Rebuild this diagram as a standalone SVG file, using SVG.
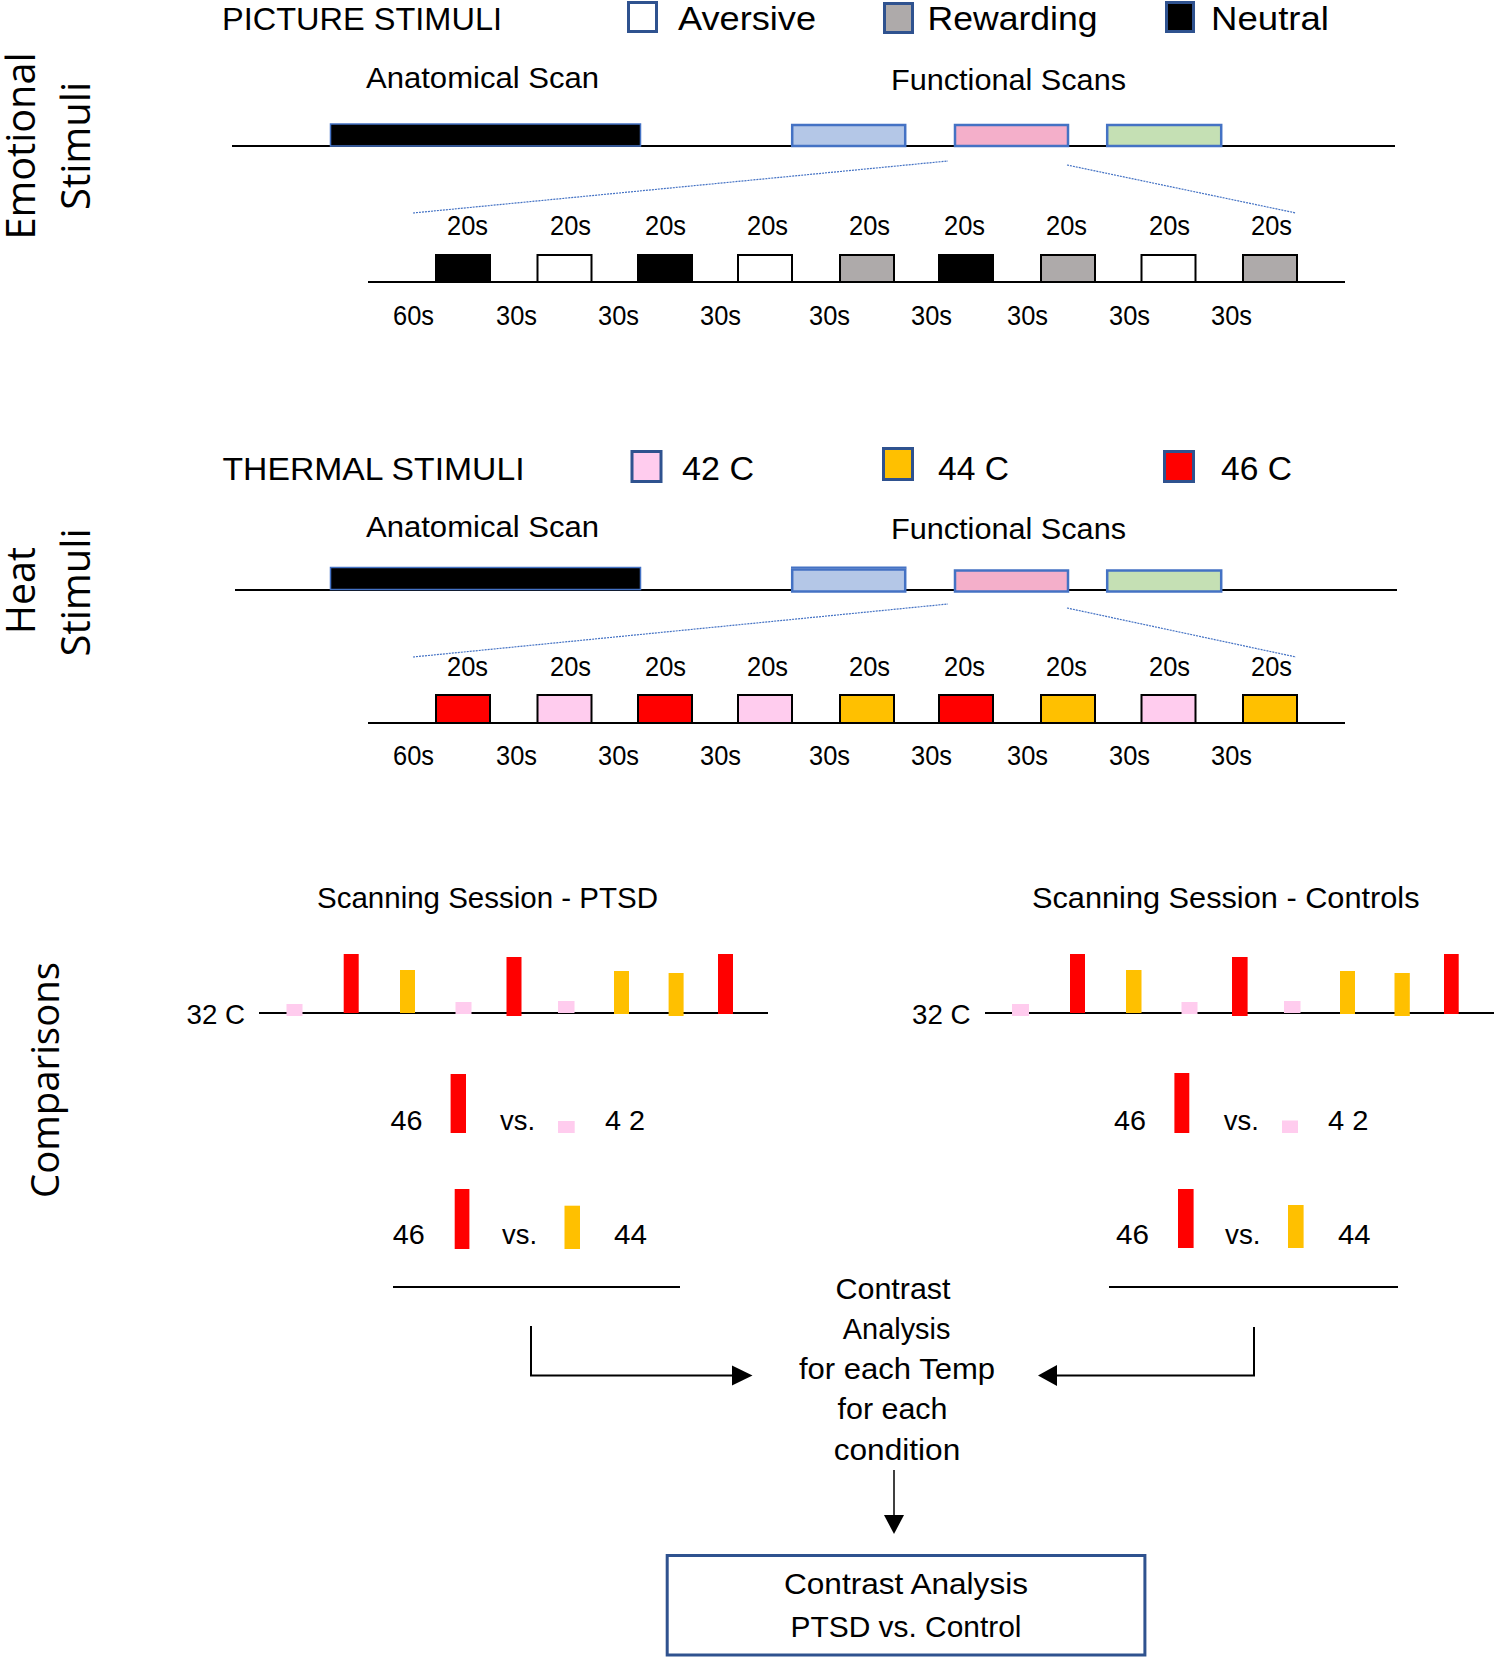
<svg xmlns="http://www.w3.org/2000/svg" width="1494" height="1657" viewBox="0 0 1494 1657">
<style>
text{font-family:"Liberation Sans",Arial,sans-serif;fill:#000}
.ax{font-family:"Open Sans","DejaVu Sans",sans-serif;font-size:40px}
.hd{font-size:32px}
.lg{font-size:34px}
.md{font-size:30px}
.sm{font-size:27px}
.nm{font-size:28px}
.lbox{stroke:#2F528F;stroke-width:3}
.tl{stroke:#000;stroke-width:2}
.fb{stroke:#4472C4;stroke-width:2.5}
.dz{stroke:#4472C4;stroke-width:1.2;stroke-dasharray:2 1;fill:none}
.bx{stroke:#000;stroke-width:2}
.blk{fill:#000}.wht{fill:#fff}.gry{fill:#AEAAAA}
.pk{fill:#FFCCEE}.or{fill:#FFC000}.rd{fill:#FF0000}
.ln{stroke:#000;stroke-width:2;fill:none}
</style>
<rect width="1494" height="1657" fill="#fff"/>

<g id="axis-labels">
<text class="ax" transform="translate(35,146) rotate(-90)" text-anchor="middle" textLength="187" lengthAdjust="spacingAndGlyphs">Emotional</text>
<text class="ax" transform="translate(89.5,146) rotate(-90)" text-anchor="middle" textLength="128" lengthAdjust="spacingAndGlyphs">Stimuli</text>
<text class="ax" transform="translate(35,590.5) rotate(-90)" text-anchor="middle" textLength="87" lengthAdjust="spacingAndGlyphs">Heat</text>
<text class="ax" transform="translate(89.5,592.5) rotate(-90)" text-anchor="middle" textLength="128" lengthAdjust="spacingAndGlyphs">Stimuli</text>
<text class="ax" style="font-size:39px" transform="translate(58.5,1080) rotate(-90)" text-anchor="middle" textLength="236" lengthAdjust="spacingAndGlyphs">Comparisons</text>
</g>

<g id="legend-picture">
<text class="hd" x="222" y="30" textLength="280" lengthAdjust="spacingAndGlyphs">PICTURE STIMULI</text>
<rect class="lbox wht" x="628.5" y="2.5" width="28" height="29"/>
<text class="lg" x="678" y="30" textLength="138" lengthAdjust="spacingAndGlyphs">Aversive</text>
<rect class="lbox gry" x="884.5" y="3.5" width="28" height="29"/>
<text class="lg" x="927.5" y="30" textLength="170" lengthAdjust="spacingAndGlyphs">Rewarding</text>
<rect class="lbox blk" x="1166.5" y="2.5" width="27" height="29"/>
<text class="lg" x="1211" y="30" textLength="118" lengthAdjust="spacingAndGlyphs">Neutral</text>
</g>

<g id="timeline-emotional">
<text class="md" x="366" y="88" textLength="233" lengthAdjust="spacingAndGlyphs">Anatomical Scan</text>
<text class="md" x="891" y="90" textLength="235" lengthAdjust="spacingAndGlyphs">Functional Scans</text>
<line class="tl" x1="232" y1="146" x2="1395" y2="146"/>
<rect x="330.5" y="124" width="310" height="22" fill="#000" stroke="#4472C4" stroke-width="1.5"/>
<rect class="fb" x="792.2" y="125" width="113" height="21" fill="#B4C7E7"/>
<rect class="fb" x="955" y="125" width="113" height="21" fill="#F4AFCA"/>
<rect class="fb" x="1107.2" y="125" width="114" height="21" fill="#C5E0B4"/>
<line class="dz" x1="413" y1="213" x2="948" y2="161"/>
<line class="dz" x1="1067" y1="165" x2="1296" y2="213"/>
</g>

<g id="detail-emotional">
<line class="tl" x1="368" y1="282" x2="1345" y2="282"/>
<rect class="bx blk" x="436" y="255" width="54" height="27"/>
<rect class="bx wht" x="537.5" y="255" width="54" height="27"/>
<rect class="bx blk" x="638" y="255" width="54" height="27"/>
<rect class="bx wht" x="738" y="255" width="54" height="27"/>
<rect class="bx gry" x="840" y="255" width="54" height="27"/>
<rect class="bx blk" x="939" y="255" width="54" height="27"/>
<rect class="bx gry" x="1041" y="255" width="54" height="27"/>
<rect class="bx wht" x="1141.5" y="255" width="54" height="27"/>
<rect class="bx gry" x="1243" y="255" width="54" height="27"/>
<text class="sm" x="447" y="235" textLength="41" lengthAdjust="spacingAndGlyphs">20s</text>
<text class="sm" x="550" y="235" textLength="41" lengthAdjust="spacingAndGlyphs">20s</text>
<text class="sm" x="645" y="235" textLength="41" lengthAdjust="spacingAndGlyphs">20s</text>
<text class="sm" x="747" y="235" textLength="41" lengthAdjust="spacingAndGlyphs">20s</text>
<text class="sm" x="849" y="235" textLength="41" lengthAdjust="spacingAndGlyphs">20s</text>
<text class="sm" x="944" y="235" textLength="41" lengthAdjust="spacingAndGlyphs">20s</text>
<text class="sm" x="1046" y="235" textLength="41" lengthAdjust="spacingAndGlyphs">20s</text>
<text class="sm" x="1149" y="235" textLength="41" lengthAdjust="spacingAndGlyphs">20s</text>
<text class="sm" x="1251" y="235" textLength="41" lengthAdjust="spacingAndGlyphs">20s</text>
<text class="sm" x="393" y="325" textLength="41" lengthAdjust="spacingAndGlyphs">60s</text>
<text class="sm" x="496" y="325" textLength="41" lengthAdjust="spacingAndGlyphs">30s</text>
<text class="sm" x="598" y="325" textLength="41" lengthAdjust="spacingAndGlyphs">30s</text>
<text class="sm" x="700" y="325" textLength="41" lengthAdjust="spacingAndGlyphs">30s</text>
<text class="sm" x="809" y="325" textLength="41" lengthAdjust="spacingAndGlyphs">30s</text>
<text class="sm" x="911" y="325" textLength="41" lengthAdjust="spacingAndGlyphs">30s</text>
<text class="sm" x="1007" y="325" textLength="41" lengthAdjust="spacingAndGlyphs">30s</text>
<text class="sm" x="1109" y="325" textLength="41" lengthAdjust="spacingAndGlyphs">30s</text>
<text class="sm" x="1211" y="325" textLength="41" lengthAdjust="spacingAndGlyphs">30s</text>
</g>

<g id="legend-thermal">
<text class="hd" x="222.5" y="480" textLength="302" lengthAdjust="spacingAndGlyphs">THERMAL STIMULI</text>
<rect class="lbox pk" x="632" y="451.5" width="29" height="30"/>
<text class="lg" x="682" y="480" textLength="72" lengthAdjust="spacingAndGlyphs">42 C</text>
<rect class="lbox or" x="883.5" y="448.5" width="29" height="31"/>
<text class="lg" x="938" y="480" textLength="71" lengthAdjust="spacingAndGlyphs">44 C</text>
<rect class="lbox rd" x="1164.5" y="451.5" width="29" height="30"/>
<text class="lg" x="1221" y="480" textLength="71" lengthAdjust="spacingAndGlyphs">46 C</text>
</g>

<g id="timeline-heat">
<text class="md" x="366" y="537" textLength="233" lengthAdjust="spacingAndGlyphs">Anatomical Scan</text>
<text class="md" x="891" y="539" textLength="235" lengthAdjust="spacingAndGlyphs">Functional Scans</text>
<line class="tl" x1="235" y1="590" x2="1397" y2="590"/>
<rect x="330.5" y="567.5" width="310" height="22" fill="#000" stroke="#4472C4" stroke-width="1.5"/>
<rect class="fb" x="792.2" y="569.5" width="113" height="22" fill="#B4C7E7"/>
<line x1="791" y1="567.5" x2="906.5" y2="567.5" stroke="#4472C4" stroke-width="2"/>
<rect class="fb" x="955" y="570.5" width="113" height="21" fill="#F4AFCA"/>
<rect class="fb" x="1107.2" y="570.5" width="114" height="21" fill="#C5E0B4"/>
<line class="dz" x1="413" y1="657" x2="948" y2="604"/>
<line class="dz" x1="1067" y1="608" x2="1296" y2="657"/>
</g>

<g id="detail-heat">
<line class="tl" x1="368" y1="723" x2="1345" y2="723"/>
<rect class="bx rd" x="436" y="695" width="54" height="28"/>
<rect class="bx pk" x="537.5" y="695" width="54" height="28"/>
<rect class="bx rd" x="638" y="695" width="54" height="28"/>
<rect class="bx pk" x="738" y="695" width="54" height="28"/>
<rect class="bx or" x="840" y="695" width="54" height="28"/>
<rect class="bx rd" x="939" y="695" width="54" height="28"/>
<rect class="bx or" x="1041" y="695" width="54" height="28"/>
<rect class="bx pk" x="1141.5" y="695" width="54" height="28"/>
<rect class="bx or" x="1243" y="695" width="54" height="28"/>
<text class="sm" x="447" y="676" textLength="41" lengthAdjust="spacingAndGlyphs">20s</text>
<text class="sm" x="550" y="676" textLength="41" lengthAdjust="spacingAndGlyphs">20s</text>
<text class="sm" x="645" y="676" textLength="41" lengthAdjust="spacingAndGlyphs">20s</text>
<text class="sm" x="747" y="676" textLength="41" lengthAdjust="spacingAndGlyphs">20s</text>
<text class="sm" x="849" y="676" textLength="41" lengthAdjust="spacingAndGlyphs">20s</text>
<text class="sm" x="944" y="676" textLength="41" lengthAdjust="spacingAndGlyphs">20s</text>
<text class="sm" x="1046" y="676" textLength="41" lengthAdjust="spacingAndGlyphs">20s</text>
<text class="sm" x="1149" y="676" textLength="41" lengthAdjust="spacingAndGlyphs">20s</text>
<text class="sm" x="1251" y="676" textLength="41" lengthAdjust="spacingAndGlyphs">20s</text>
<text class="sm" x="393" y="765" textLength="41" lengthAdjust="spacingAndGlyphs">60s</text>
<text class="sm" x="496" y="765" textLength="41" lengthAdjust="spacingAndGlyphs">30s</text>
<text class="sm" x="598" y="765" textLength="41" lengthAdjust="spacingAndGlyphs">30s</text>
<text class="sm" x="700" y="765" textLength="41" lengthAdjust="spacingAndGlyphs">30s</text>
<text class="sm" x="809" y="765" textLength="41" lengthAdjust="spacingAndGlyphs">30s</text>
<text class="sm" x="911" y="765" textLength="41" lengthAdjust="spacingAndGlyphs">30s</text>
<text class="sm" x="1007" y="765" textLength="41" lengthAdjust="spacingAndGlyphs">30s</text>
<text class="sm" x="1109" y="765" textLength="41" lengthAdjust="spacingAndGlyphs">30s</text>
<text class="sm" x="1211" y="765" textLength="41" lengthAdjust="spacingAndGlyphs">30s</text>
</g>

<g id="session-ptsd">
<text class="md" x="317" y="908" textLength="341" lengthAdjust="spacingAndGlyphs">Scanning Session - PTSD</text>
<text class="nm" x="186.5" y="1024" textLength="58.5" lengthAdjust="spacingAndGlyphs">32 C</text>
<line class="tl" x1="259" y1="1013" x2="768" y2="1013"/>
<rect class="pk" x="286.5" y="1004" width="16" height="12"/>
<rect class="rd" x="343.7" y="954" width="15" height="59"/>
<rect class="or" x="400" y="970" width="15" height="43"/>
<rect class="pk" x="455.5" y="1002" width="16" height="12"/>
<rect class="rd" x="506.5" y="957" width="15" height="59"/>
<rect class="pk" x="558" y="1001" width="16.5" height="12"/>
<rect class="or" x="614" y="971" width="15" height="43"/>
<rect class="or" x="668.6" y="973" width="15" height="43"/>
<rect class="rd" x="718" y="954" width="15" height="60"/>
<text class="nm" x="390.6" y="1130" textLength="32" lengthAdjust="spacingAndGlyphs">46</text>
<rect class="rd" x="450.6" y="1074" width="15.4" height="59"/>
<text class="nm" x="500" y="1130" textLength="35" lengthAdjust="spacingAndGlyphs">vs.</text>
<rect class="pk" x="558" y="1121" width="16.7" height="12"/>
<text class="nm" x="605" y="1130" textLength="40" lengthAdjust="spacingAndGlyphs">4 2</text>
<text class="nm" x="392.7" y="1244" textLength="32" lengthAdjust="spacingAndGlyphs">46</text>
<rect class="rd" x="454.7" y="1189" width="14.7" height="60"/>
<text class="nm" x="502" y="1244" textLength="35" lengthAdjust="spacingAndGlyphs">vs.</text>
<rect class="or" x="564.5" y="1205.7" width="15.5" height="43.3"/>
<text class="nm" x="614" y="1244" textLength="33" lengthAdjust="spacingAndGlyphs">44</text>
</g>

<g id="session-controls">
<text class="md" x="1032" y="908" textLength="387.5" lengthAdjust="spacingAndGlyphs">Scanning Session - Controls</text>
<text class="nm" x="912" y="1024" textLength="58.5" lengthAdjust="spacingAndGlyphs">32 C</text>
<line class="tl" x1="985" y1="1013" x2="1494" y2="1013"/>
<rect class="pk" x="1012" y="1004" width="17" height="12"/>
<rect class="rd" x="1070" y="954" width="15" height="59"/>
<rect class="or" x="1126" y="970" width="15.5" height="43"/>
<rect class="pk" x="1181.5" y="1002" width="16" height="12"/>
<rect class="rd" x="1232" y="957" width="15.6" height="59"/>
<rect class="pk" x="1284" y="1001" width="16.5" height="12"/>
<rect class="or" x="1340" y="971" width="15" height="43"/>
<rect class="or" x="1394.5" y="973" width="15.3" height="43"/>
<rect class="rd" x="1444" y="954" width="14.7" height="60"/>
<text class="nm" x="1114" y="1130" textLength="32" lengthAdjust="spacingAndGlyphs">46</text>
<rect class="rd" x="1174.4" y="1073" width="14.9" height="60"/>
<text class="nm" x="1223.8" y="1130" textLength="35" lengthAdjust="spacingAndGlyphs">vs.</text>
<rect class="pk" x="1282" y="1120.5" width="16" height="12.5"/>
<text class="nm" x="1328" y="1130" textLength="40.5" lengthAdjust="spacingAndGlyphs">4 2</text>
<text class="nm" x="1116" y="1244" textLength="33" lengthAdjust="spacingAndGlyphs">46</text>
<rect class="rd" x="1178" y="1189" width="15.6" height="59"/>
<text class="nm" x="1225" y="1244" textLength="35.5" lengthAdjust="spacingAndGlyphs">vs.</text>
<rect class="or" x="1288" y="1205" width="15.6" height="43"/>
<text class="nm" x="1338" y="1244" textLength="32.5" lengthAdjust="spacingAndGlyphs">44</text>
</g>

<g id="contrast-each">
<text class="md" x="893" y="1299" text-anchor="middle" textLength="115" lengthAdjust="spacingAndGlyphs">Contrast</text>
<text class="md" x="896.6" y="1339" text-anchor="middle" textLength="107.6" lengthAdjust="spacingAndGlyphs">Analysis</text>
<text class="md" x="897" y="1379" text-anchor="middle" textLength="196" lengthAdjust="spacingAndGlyphs">for each Temp</text>
<text class="md" x="892.5" y="1419" text-anchor="middle" textLength="110" lengthAdjust="spacingAndGlyphs">for each</text>
<text class="md" x="897" y="1460" text-anchor="middle" textLength="126.6" lengthAdjust="spacingAndGlyphs">condition</text>
</g>

<g id="contrast-group">
<rect x="667.2" y="1555.5" width="477.7" height="99.5" fill="#fff" stroke="#2F528F" stroke-width="3"/>
<text class="md" x="906" y="1594" text-anchor="middle" textLength="244" lengthAdjust="spacingAndGlyphs">Contrast Analysis</text>
<text class="md" x="906" y="1637" text-anchor="middle" textLength="231" lengthAdjust="spacingAndGlyphs">PTSD vs. Control</text>
</g>

<g id="connectors">
<line class="ln" x1="393" y1="1287" x2="680" y2="1287"/>
<line class="ln" x1="1109" y1="1287" x2="1398" y2="1287"/>
<polyline class="ln" points="531,1326 531,1375.5 733,1375.5"/>
<polygon points="732,1365.5 752.5,1375.5 732,1385.5" fill="#000"/>
<polyline class="ln" points="1254,1327 1254,1375.5 1056,1375.5"/>
<polygon points="1057,1365 1038,1375.5 1057,1386" fill="#000"/>
<line x1="894" y1="1470" x2="894" y2="1516" stroke="#000" stroke-width="1.5"/>
<polygon points="884,1515 904,1515 894,1534" fill="#000"/>
</g>
</svg>
